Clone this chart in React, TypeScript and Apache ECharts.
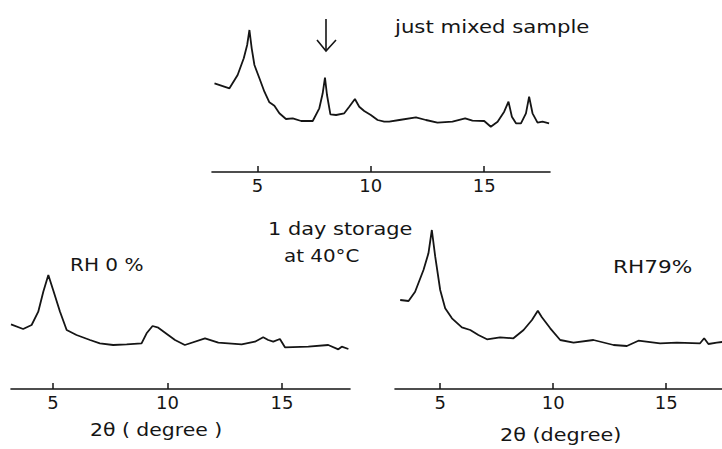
import React, { useEffect, useRef } from "react";
import * as echarts from "echarts";

const mixedX = [3.11, 3.77, 4.13, 4.4, 4.55, 4.65, 4.75, 4.87, 5.09, 5.31, 5.53, 5.75, 5.97, 6.26, 6.56, 6.93, 7.44, 7.73, 7.88, 7.98, 8.07, 8.22, 8.47, 8.83, 9.05, 9.3, 9.49, 9.71, 10.0, 10.3, 10.59, 10.81, 11.26, 11.99, 12.43, 12.94, 13.6, 14.16, 14.48, 15.0, 15.29, 15.59, 15.88, 16.07, 16.22, 16.4, 16.62, 16.84, 16.98, 17.13, 17.35, 17.57, 17.86];
const mixedY = [88.7, 83.7, 97, 113.7, 127, 142, 123.7, 107, 93.7, 80.3, 69.7, 66.3, 58.7, 53, 53.7, 51, 51, 63.7, 78.7, 94.3, 77, 57.7, 57, 58.7, 65.3, 73, 65.3, 61, 57, 52, 50.3, 50.3, 52, 54.7, 52, 49.3, 50.3, 53.7, 51.3, 51, 45.3, 50.3, 60.3, 70.3, 55.3, 48.7, 48.7, 58.7, 75.3, 58.7, 49.3, 50.3, 48.7];

const rh0X = [3.17, 3.7, 4.07, 4.36, 4.58, 4.8, 5.01, 5.31, 5.6, 6.03, 6.62, 7.05, 7.63, 8.22, 8.87, 9.09, 9.35, 9.6, 10.33, 10.76, 11.64, 12.22, 13.24, 13.82, 14.18, 14.4, 14.62, 14.91, 15.13, 16.15, 17.02, 17.46, 17.61, 17.9];
const rh0Y = [64.7, 60, 64, 77.3, 97.3, 114, 99, 77.3, 59, 54, 49, 45.7, 44, 44.7, 45.7, 55.7, 63, 61.3, 49, 44, 50.7, 46.3, 44.7, 47.3, 51.7, 49, 47.3, 50, 41.7, 42.3, 44, 39.7, 42.3, 40];

const rh79X = [3.23, 3.6, 3.89, 4.26, 4.48, 4.63, 4.78, 5.0, 5.22, 5.52, 5.96, 6.33, 6.69, 7.07, 7.65, 8.24, 8.69, 9.06, 9.32, 9.5, 9.87, 10.31, 10.9, 11.78, 12.67, 13.26, 13.77, 14.73, 15.47, 16.5, 16.68, 16.87, 17.24, 17.48];
const rh79Y = [89, 88, 97.3, 119, 135.7, 159, 132.3, 99, 80.7, 70.7, 61.7, 59, 54, 49.7, 51.7, 50.7, 59, 69, 78.3, 71.7, 60.7, 49, 46.3, 49, 44, 43, 48.3, 45.7, 46.3, 45.7, 50.7, 45, 46.3, 47];

const tickValues = [5, 10, 15];

const zip = (xs: number[], ys: number[]) => xs.map((x, i) => [x, ys[i]]);

const INK = "#151515";
const FONT = "'DejaVu Sans', 'Noto Sans', sans-serif";

function makeX(gridIndex: number, min: number, max: number) {
  return {
    type: "value",
    gridIndex,
    min,
    max,
    splitLine: { show: false },
    axisLine: { show: true, onZero: false, lineStyle: { color: INK, width: 1.6 } },
    axisTick: { show: true, inside: true, length: 6, customValues: tickValues, lineStyle: { color: INK, width: 1.5 } },
    axisLabel: { show: true, customValues: tickValues, color: INK, fontSize: 18, fontFamily: FONT, margin: 4 },
  };
}

function makeY(gridIndex: number, max: number) {
  return { type: "value", gridIndex, min: 0, max, show: false, splitLine: { show: false } };
}

function makeSeries(idx: number, data: number[][]) {
  return {
    type: "line",
    xAxisIndex: idx,
    yAxisIndex: idx,
    data,
    symbol: "none",
    smooth: false,
    lineStyle: { color: INK, width: 1.8 },
  };
}

function txt(x: number, y: number, text: string, size: number, sx: number) {
  return {
    type: "text",
    x,
    y,
    scaleX: sx,
    style: { text, fill: INK, font: `${size}px ${FONT}`, textVerticalAlign: "middle", textAlign: "left" },
  };
}

export default function App() {
  const ref = useRef<HTMLDivElement>(null);
  useEffect(() => {
    if (!ref.current) return;
    const chart = echarts.init(ref.current, null, { renderer: "svg" });
    chart.setOption({
      animation: false,
      backgroundColor: "#ffffff",
      grid: [
        { left: 212, top: 12, width: 338, height: 160 },
        { left: 11, top: 219, width: 339, height: 170 },
        { left: 395, top: 219, width: 327, height: 170 },
      ],
      xAxis: [makeX(0, 3.0, 17.9), makeX(1, 3.17, 17.97), makeX(2, 3.0, 17.47)],
      yAxis: [makeY(0, 160), makeY(1, 170), makeY(2, 170)],
      series: [makeSeries(0, zip(mixedX, mixedY)), makeSeries(1, zip(rh0X, rh0Y)), makeSeries(2, zip(rh79X, rh79Y))],
      graphic: [
        txt(395, 27, "just mixed sample", 18, 1.18),
        txt(268, 229, "1 day storage", 17, 1.23),
        txt(284, 256, "at 40°C", 17, 1.17),
        txt(70, 265, "RH 0 %", 17, 1.18),
        txt(613, 267, "RH79%", 17, 1.27),
        txt(90, 430, "2θ ( degree )", 17, 1.2),
        txt(500, 435, "2θ (degree)", 17, 1.22),
        { type: "line", shape: { x1: 326, y1: 19, x2: 326, y2: 51 }, style: { stroke: INK, lineWidth: 1.6 } },
        { type: "polyline", shape: { points: [[317, 40], [326, 51], [336, 40]] }, style: { stroke: INK, lineWidth: 1.6, fill: "none" } },
      ],
    });
    return () => chart.dispose();
  }, []);
  return (
    <div
      ref={ref}
      style={{ position: "absolute", left: 0, top: 0, width: 722, height: 449, background: "#fff" }}
    />
  );
}
